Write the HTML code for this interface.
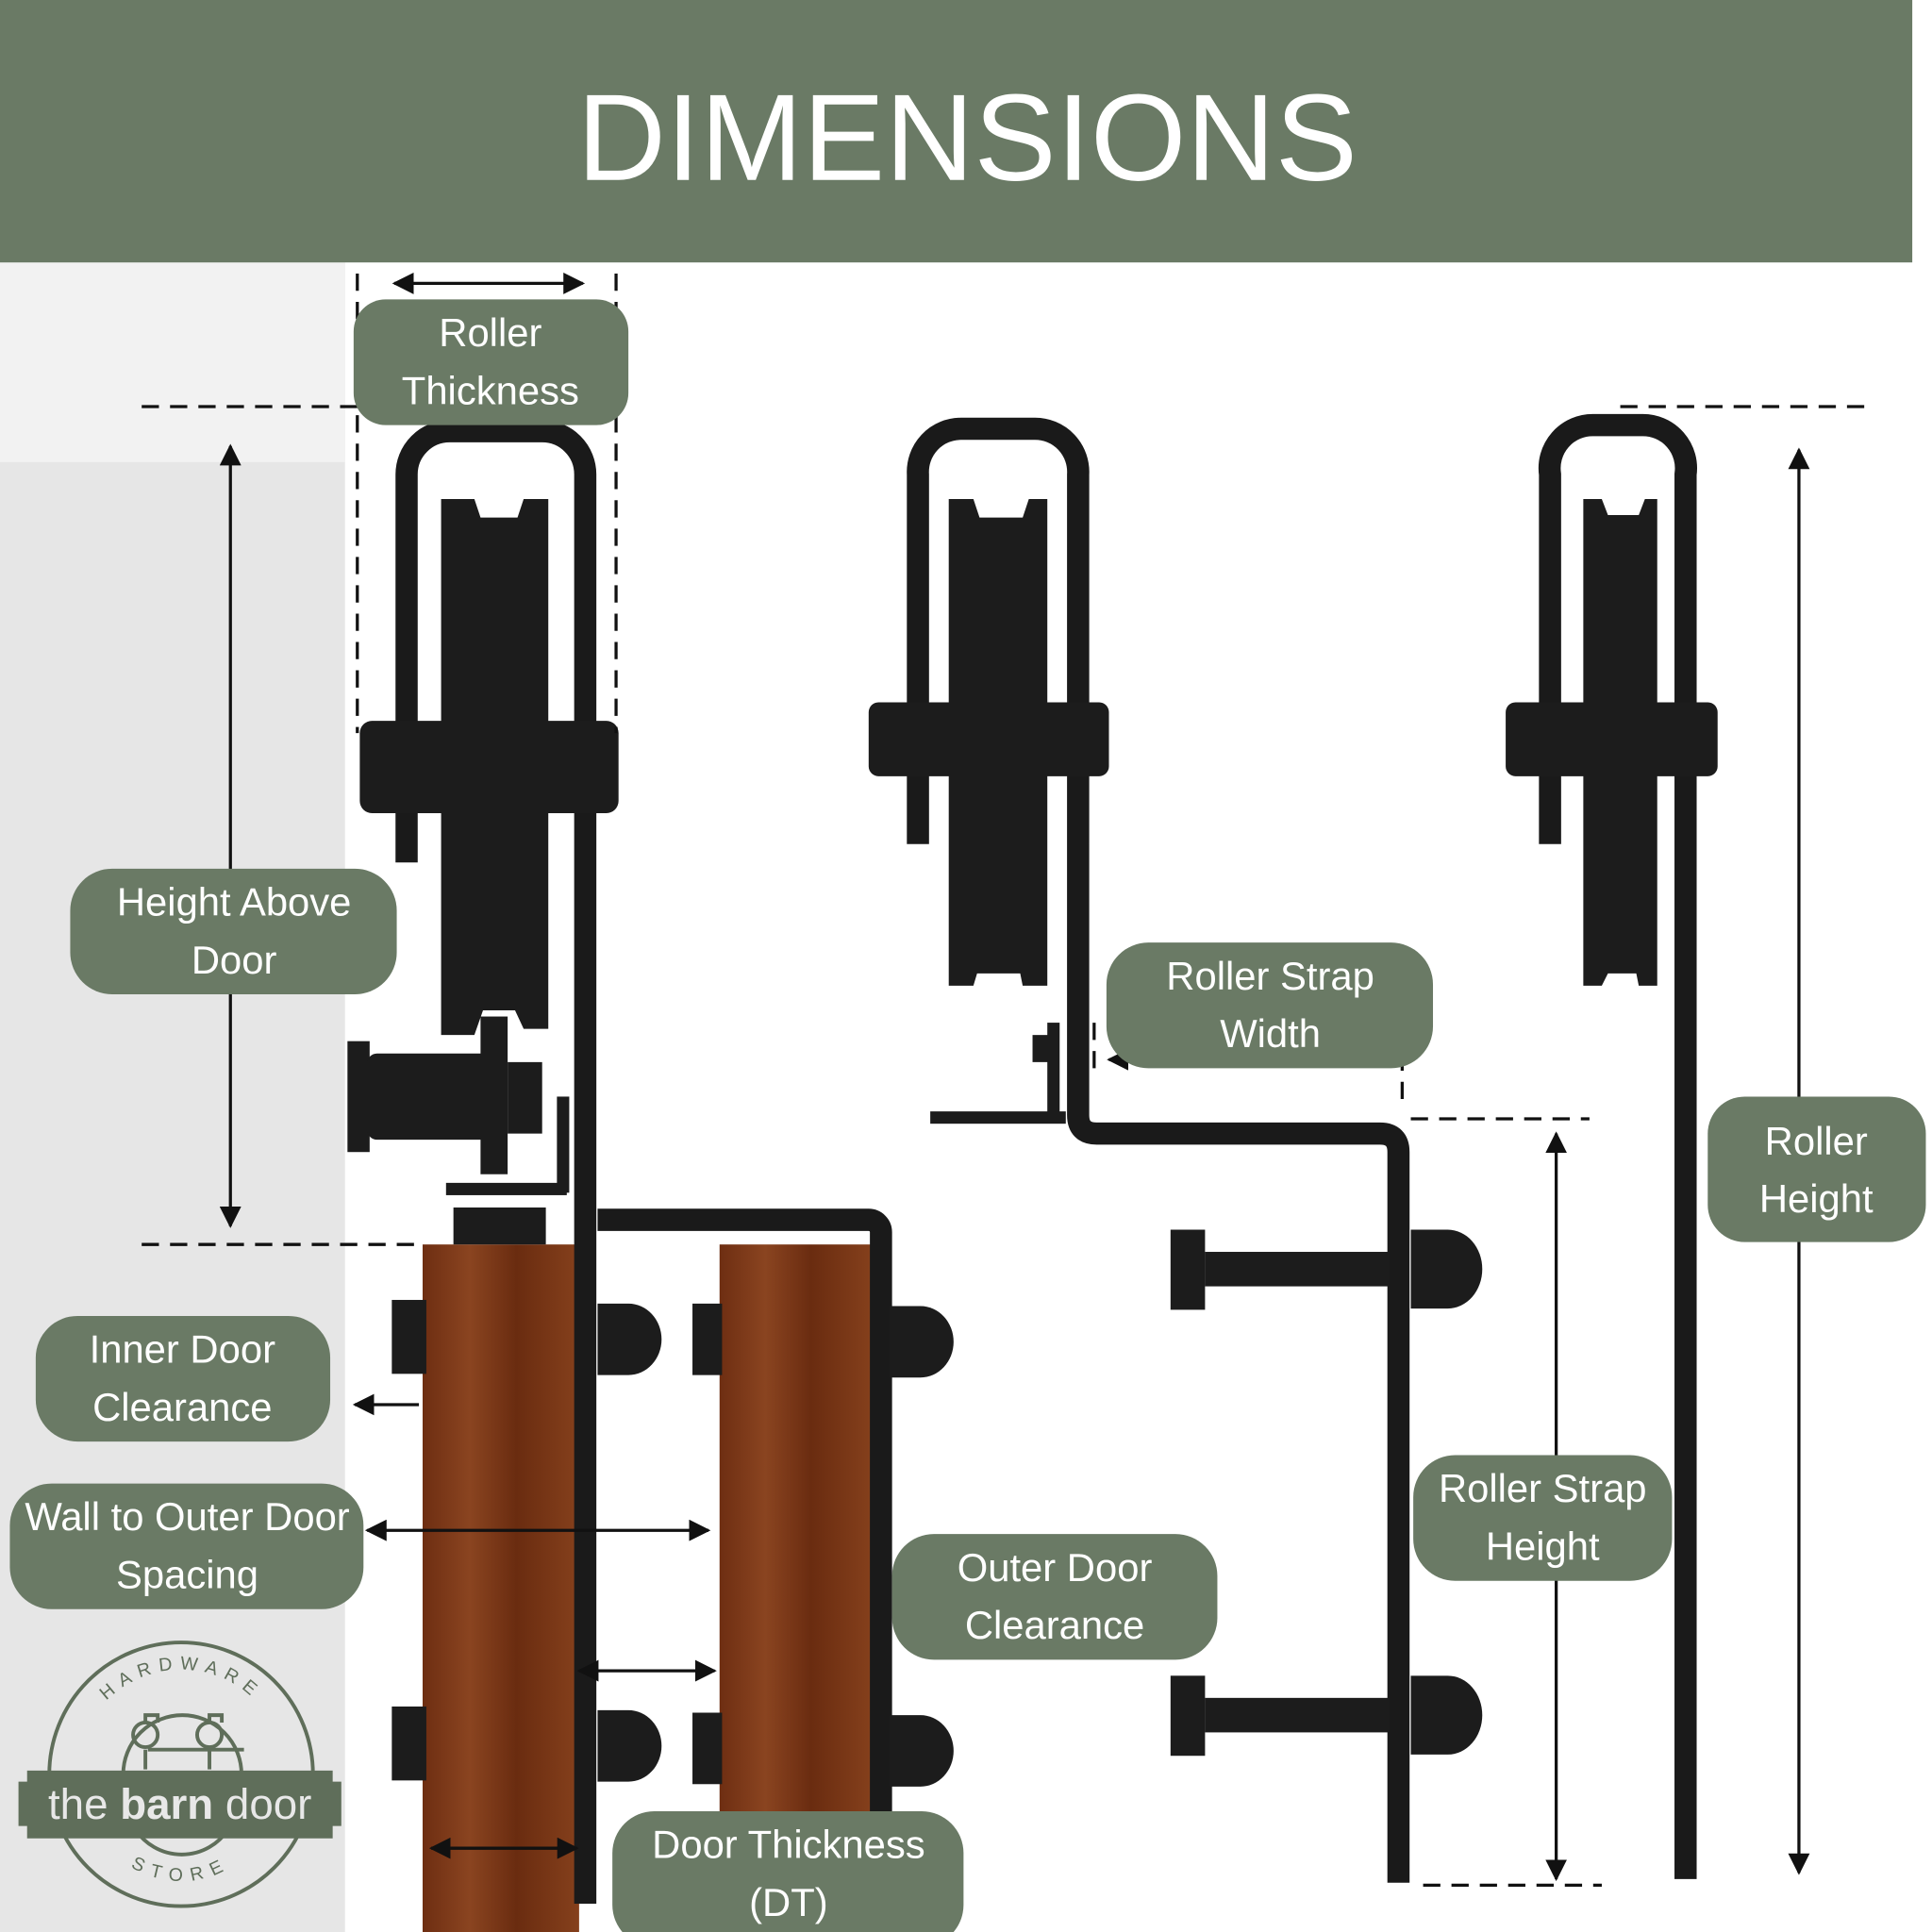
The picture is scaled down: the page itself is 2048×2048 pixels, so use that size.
<!DOCTYPE html>
<html><head><style>html,body{margin:0;padding:0;background:#fff}svg{display:block}</style></head>
<body>
<svg width="2048" height="2048" viewBox="0 0 1568 1568" xmlns="http://www.w3.org/2000/svg" font-family="Liberation Sans, sans-serif">
<defs>
<marker id="ah" viewBox="0 0 10 10" refX="9" refY="5" markerWidth="7" markerHeight="7" orient="auto-start-reverse"><path d="M0,0 L10,5 L0,10 z" fill="#111"/></marker>
<linearGradient id="wood" x1="0" x2="1"><stop offset="0" stop-color="#6e2e12"/><stop offset=".3" stop-color="#8a4420"/><stop offset=".6" stop-color="#6a2c10"/><stop offset="1" stop-color="#85401c"/></linearGradient>
<path id="arcTop" d="M62,1440 A85,85 0 0 1 232,1440"/>
<path id="arcBot" d="M72,1470 A78,78 0 0 0 222,1470"/>
</defs>
<rect width="1568" height="1568" fill="#fff"/>
<rect x="0" y="213" width="280" height="1355" fill="#e6e6e6"/>
<rect x="0" y="213" width="280" height="162" fill="#f2f2f2"/>
<rect x="0" y="0" width="1552" height="213" fill="#6a7a65"/>
<text x="785" y="146" font-size="100" fill="#fff" text-anchor="middle">DIMENSIONS</text>

<!-- doors -->
<rect x="343" y="1010" width="127" height="558" fill="url(#wood)"/>
<rect x="584" y="1010" width="124" height="558" fill="url(#wood)"/>

<g fill="none" stroke="#1a1a1a" stroke-width="18">
<!-- roller 1 strap -->
<path d="M330,700 V385 A35,35 0 0 1 365,350 H440 A35,35 0 0 1 475,385 V1545"/>
<path d="M485,990 H705 A10,10 0 0 1 715,1000 V1568"/>
<!-- roller 2 -->
<path d="M745,685 V385 A35,35 0 0 1 780,348 H840 A35,35 0 0 1 875,385 V905 Q875,920 890,920 H1120 Q1135,920 1135,935 V1528"/>
<!-- roller 3 -->
<path d="M1258,685 V385 A35,35 0 0 1 1293,345 H1333 A35,35 0 0 1 1368,385 V1525"/>
</g>
<!-- wheels -->
<g fill="#1c1c1c">
<path d="M358,405 L385,405 L390,420 H420 L425,405 L445,405 L445,835 L425,835 L418,820 H392 L385,840 L358,840 Z"/>
<rect x="292" y="585" width="210" height="75" rx="10"/>
<path d="M770,405 H790 L795,420 H830 L835,405 H850 V800 H830 L828,790 H793 L790,800 H770 Z"/>
<rect x="705" y="570" width="195" height="60" rx="8"/>
<path d="M1285,405 H1300 L1305,418 H1330 L1335,405 H1345 V800 H1330 L1328,790 H1305 L1300,800 H1285 Z"/>
<rect x="1222" y="570" width="172" height="60" rx="8"/>
<!-- lower roller 1 parts -->
<rect x="282" y="845" width="18" height="90"/>
<rect x="298" y="855" width="100" height="70" rx="8"/>
<rect x="390" y="825" width="22" height="128"/>
<rect x="412" y="862" width="28" height="58"/>
<rect x="362" y="960" width="98" height="10"/>
<rect x="368" y="980" width="75" height="30"/>
<rect x="452" y="890" width="10" height="78"/>
<!-- roller 2 bracket -->
<rect x="755" y="902" width="110" height="10"/>
<rect x="850" y="830" width="10" height="80"/>
<rect x="838" y="840" width="14" height="22"/>
<!-- door bolts -->
<rect x="318" y="1055" width="28" height="60"/><path d="M485,1058 h25 a26,28 0 0 1 0,58 h-25z"/>
<rect x="562" y="1058" width="24" height="58"/><path d="M722,1060 h25 a26,28 0 0 1 0,58 h-25z"/>
<rect x="318" y="1385" width="28" height="60"/><path d="M485,1388 h25 a26,28 0 0 1 0,58 h-25z"/>
<rect x="562" y="1390" width="24" height="58"/><path d="M722,1392 h25 a26,28 0 0 1 0,58 h-25z"/>
<!-- right bolts -->
<rect x="950" y="998" width="28" height="65"/><rect x="978" y="1016" width="150" height="28"/><path d="M1145,998 h30 a28,32 0 0 1 0,64 h-30z"/>
<rect x="950" y="1360" width="28" height="65"/><rect x="978" y="1378" width="150" height="28"/><path d="M1145,1360 h30 a28,32 0 0 1 0,64 h-30z"/>
</g>

<!-- dimension lines -->
<g stroke="#111" stroke-width="2.5" fill="none">
<g stroke-dasharray="14,9">
<line x1="115" y1="330" x2="290" y2="330"/>
<line x1="115" y1="1010" x2="340" y2="1010"/>
<line x1="290" y1="222" x2="290" y2="595"/>
<line x1="500" y1="222" x2="500" y2="595"/>
<line x1="1315" y1="330" x2="1515" y2="330"/>
<line x1="1145" y1="908" x2="1290" y2="908"/>
<line x1="1155" y1="1530" x2="1300" y2="1530"/>
<line x1="888" y1="830" x2="888" y2="870"/>
<line x1="1138" y1="855" x2="1138" y2="895"/>
</g>
<line x1="320" y1="230" x2="473" y2="230" marker-start="url(#ah)" marker-end="url(#ah)"/>
<line x1="187" y1="362" x2="187" y2="995" marker-start="url(#ah)" marker-end="url(#ah)"/>
<line x1="1460" y1="365" x2="1460" y2="1520" marker-start="url(#ah)" marker-end="url(#ah)"/>
<line x1="1263" y1="920" x2="1263" y2="1525" marker-start="url(#ah)" marker-end="url(#ah)"/>
<line x1="340" y1="1140" x2="288" y2="1140" marker-end="url(#ah)"/>
<line x1="298" y1="1242" x2="575" y2="1242" marker-start="url(#ah)" marker-end="url(#ah)"/>
<line x1="470" y1="1356" x2="580" y2="1356" marker-start="url(#ah)" marker-end="url(#ah)"/>
<line x1="350" y1="1500" x2="468" y2="1500" marker-start="url(#ah)" marker-end="url(#ah)"/>
<line x1="900" y1="860" x2="918" y2="860" marker-start="url(#ah)"/>
</g>

<!-- labels -->
<g fill="#6a7a65">
<rect x="287" y="243" width="223" height="102" rx="26"/>
<rect x="57" y="705" width="265" height="102" rx="34"/>
<rect x="29" y="1068" width="239" height="102" rx="34"/>
<rect x="8" y="1204" width="287" height="102" rx="34"/>
<rect x="898" y="765" width="265" height="102" rx="34"/>
<rect x="1386" y="890" width="177" height="118" rx="30"/>
<rect x="1147" y="1181" width="210" height="102" rx="34"/>
<rect x="724" y="1245" width="264" height="102" rx="34"/>
<rect x="497" y="1470" width="285" height="110" rx="34"/>
</g>
<g fill="#fff" font-size="32" text-anchor="middle">
<text x="398" y="281">Roller</text><text x="398" y="328">Thickness</text>
<text x="190" y="743">Height Above</text><text x="190" y="790">Door</text>
<text x="148" y="1106">Inner Door</text><text x="148" y="1153">Clearance</text>
<text x="152" y="1242">Wall to Outer Door</text><text x="152" y="1289">Spacing</text>
<text x="1031" y="803">Roller Strap</text><text x="1031" y="850">Width</text>
<text x="1474" y="937">Roller</text><text x="1474" y="984">Height</text>
<text x="1252" y="1219">Roller Strap</text><text x="1252" y="1266">Height</text>
<text x="856" y="1283">Outer Door</text><text x="856" y="1330">Clearance</text>
<text x="640" y="1508">Door Thickness</text><text x="640" y="1555">(DT)</text>
</g>

<!-- logo -->
<g stroke="#5f6e5a" stroke-width="3" fill="none">
<circle cx="147" cy="1440" r="107"/>
<path d="M100,1440 A48,48 0 0 1 196,1440"/>
<path d="M110,1485 A45,45 0 0 0 185,1485"/>
<line x1="120" y1="1420" x2="198" y2="1420"/>
<circle cx="118" cy="1408" r="10"/><circle cx="170" cy="1408" r="10"/>
<line x1="118" y1="1420" x2="118" y2="1436"/><line x1="170" y1="1420" x2="170" y2="1436"/>
<path d="M118,1398 V1392 H128 V1398"/><path d="M170,1398 V1392 H180 V1398"/>
</g>
<path d="M22,1437 H270 V1446 H277 V1482 H270 V1492 H22 V1482 H15 V1446 H22 Z" fill="#5f6e5a"/>
<text x="146" y="1476" font-size="35" fill="#e8e8e8" text-anchor="middle">the <tspan font-weight="bold">barn</tspan> door</text>
<text font-size="15" fill="#5f6e5a" letter-spacing="6"><textPath href="#arcTop" startOffset="50%" text-anchor="middle">HARDWARE</textPath></text>
<text font-size="15" fill="#5f6e5a" letter-spacing="7"><textPath href="#arcBot" startOffset="50%" text-anchor="middle">STORE</textPath></text>
</svg>
</body></html>
